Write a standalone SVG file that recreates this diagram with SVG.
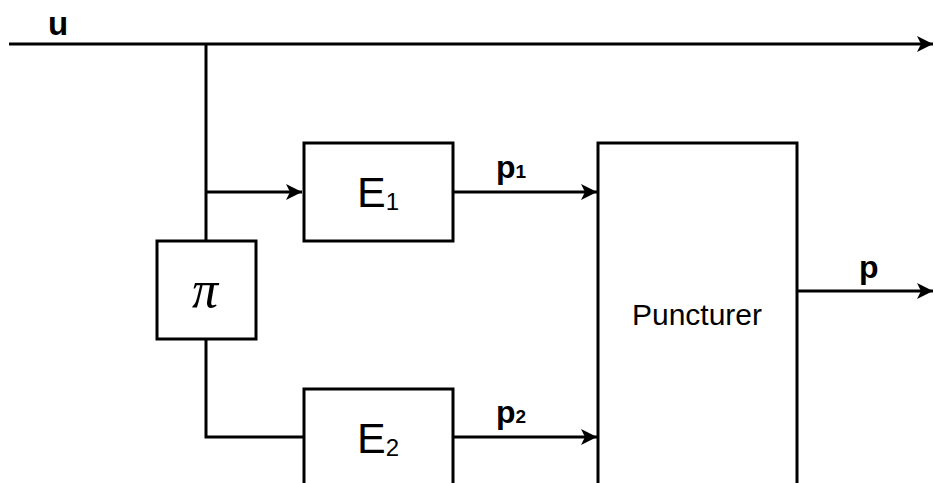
<svg xmlns="http://www.w3.org/2000/svg" width="934" height="483" viewBox="0 0 934 483">
<defs>
<marker id="arr" markerUnits="userSpaceOnUse" markerWidth="18" markerHeight="16" refX="16" refY="8" orient="auto">
<path d="M0,0 L16,8 L0,16 L4,8 Z" fill="#000"/>
</marker>
<style>
.box{fill:#fff;stroke:#000;stroke-width:3}
.ln{fill:none;stroke:#000;stroke-width:3}
.lbl{font-family:"Liberation Sans",Arial,sans-serif;fill:#000}
.b{font-weight:bold}
</style>
</defs>
<rect width="934" height="483" fill="#fff"/>
<g id="connectors">
<path class="ln" d="M9,44 L933,44" marker-end="url(#arr)"/>
<path class="ln" d="M206,44 L206,241"/>
<path class="ln" d="M206,192 L302,192" marker-end="url(#arr)"/>
<path class="ln" d="M206,339 L206,437 L304,437"/>
<path class="ln" d="M453,192 L597,192" marker-end="url(#arr)"/>
<path class="ln" d="M453,437 L597,437" marker-end="url(#arr)"/>
<path class="ln" d="M797,291 L933,291" marker-end="url(#arr)"/>
</g>
<g id="E1">
<rect class="box" x="304" y="143" width="149" height="98"/>
<text class="lbl" x="357" y="207" font-size="43">E<tspan font-size="24" dy="3">1</tspan></text>
</g>
<g id="pi">
<rect class="box" x="157" y="241" width="99" height="98"/>
<text x="205" y="307" text-anchor="middle" font-family="'Liberation Serif','Times New Roman',serif" font-style="italic" font-size="52">π</text>
</g>
<g id="E2">
<rect class="box" x="304" y="389" width="149" height="100"/>
<text class="lbl" x="357" y="453" font-size="43">E<tspan font-size="24" dy="3">2</tspan></text>
</g>
<g id="Puncturer">
<rect class="box" x="598" y="143" width="199" height="350"/>
<text class="lbl" x="697" y="325" font-size="30" text-anchor="middle">Puncturer</text>
</g>
<g id="labels">
<text class="lbl b" x="48" y="35" font-size="33">u</text>
<text class="lbl b" x="496" y="178" font-size="32">p<tspan font-size="19">1</tspan></text>
<text class="lbl b" x="496" y="423" font-size="32">p<tspan font-size="19">2</tspan></text>
<text class="lbl b" x="859" y="278" font-size="32">p</text>
</g>
</svg>
